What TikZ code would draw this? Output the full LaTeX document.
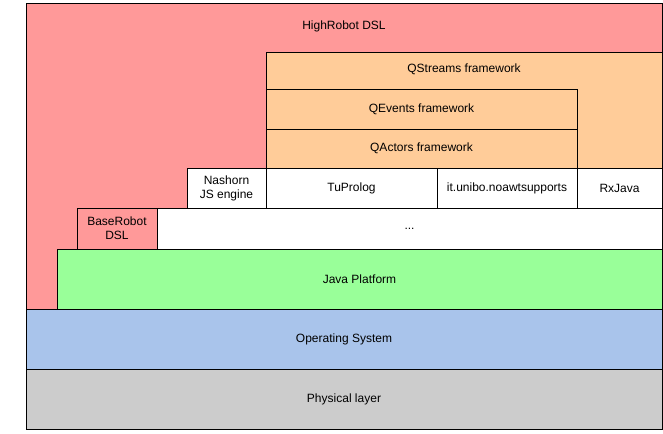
\documentclass[tikz,border=0pt]{standalone}
\usepackage{fontspec}
\setmainfont{Liberation Sans}
\usepackage{xcolor}
\definecolor{highpink}{HTML}{FF9999}
\definecolor{qorange}{HTML}{FFCC99}
\definecolor{javagreen}{HTML}{99FF99}
\definecolor{osblue}{HTML}{A9C4EB}
\definecolor{physgray}{HTML}{CCCCCC}
\tikzset{
	layer/.style={draw=black, line width=0.75pt},
	lbl/.style={font=\fontsize{9}{10.5}\selectfont, align=center, inner sep=0pt}
}

\begin{document}
\begin{tikzpicture}[x=0.75pt,y=-0.75pt]
		% Fix the page size
		\useasboundingbox (0,0) rectangle (663,433);
		% Draw the DSL background
		\draw[layer, fill=highpink] (26,3) rectangle (662,309);
		\node[lbl] (high) at (344,26) {HighRobot DSL};
		% Draw the frameworks
		\draw[layer, fill=qorange] (266,52) rectangle (662,168);
		\node[lbl] (streams) at (464,69) {QStreams framework};
		\draw[layer] (266,89) rectangle (577,129) node[midway, lbl] (events) {QEvents framework};
		\draw[layer] (266,129) rectangle (577,168) node[midway, lbl] (actors) {QActors framework};
		% Draw the libraries
		\draw[layer, fill=white] (187,168) rectangle (266,208) node[midway, lbl] (nashorn) {Nashorn\\JS engine};
		\draw[layer, fill=white] (266,168) rectangle (437,208) node[midway, lbl] (prolog) {TuProlog};
		\draw[layer, fill=white] (437,168) rectangle (577,208) node[midway, lbl] (noawt) {it.unibo.noawtsupports};
		\draw[layer, fill=white] (577,168) rectangle (662,208) node[midway, lbl] (rxjava) {RxJava};
		% Draw the base row
		\draw[layer, fill=highpink] (77,208) rectangle (157,249) node[midway, lbl] (base) {BaseRobot\\DSL};
		\draw[layer, fill=white] (157,208) rectangle (662,249) node[midway, lbl] (dots) {...};
		% Draw the platform layers
		\draw[layer, fill=javagreen] (57,249) rectangle (662,309) node[midway, lbl] (java) {Java Platform};
		\draw[layer, fill=osblue] (26,309) rectangle (662,369) node[midway, lbl] (os) {Operating System};
		\draw[layer, fill=physgray] (26,369) rectangle (662,429) node[midway, lbl] (phys) {Physical layer};
	\end{tikzpicture}
\end{document}
